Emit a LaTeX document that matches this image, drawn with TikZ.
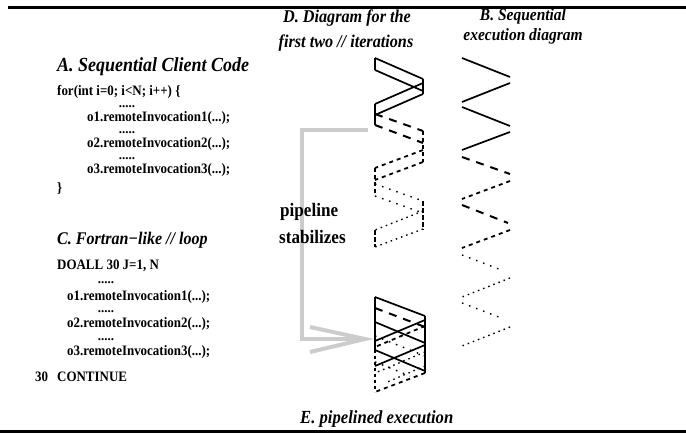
\documentclass[tikz,border=0pt]{standalone}
\usepackage{fontspec}
\setmainfont{Liberation Serif}
% slightly condensed Times-like face for all labels
\newfontfamily\narrowserif[FakeStretch=0.9]{Liberation Serif}
\begin{document}
\begin{tikzpicture}[x=1pt,y=-1pt,
  ttl/.style={inner sep=0pt,font=\narrowserif\fontsize{18.5}{22}\selectfont\bfseries\itshape},
  code/.style={inner sep=0pt,anchor=base west,font=\narrowserif\fontsize{14.4}{17}\selectfont\bfseries},
  gap/.style={inner sep=0pt,anchor=base,text height=1.5pt,text depth=0pt,font=\fontsize{13}{15}\selectfont\bfseries},
  rulebar/.style={line width=2.6pt},
  solidln/.style={line width=1.7pt},
  longdash/.style={line width=2pt,dash pattern=on 8pt off 7pt},
  shortdash/.style={line width=1.8pt,dash pattern=on 4pt off 4pt},
  sparsedot/.style={line width=1.4pt,dash pattern=on 1.5pt off 6pt},
  densedot/.style={line width=1.4pt,dash pattern=on 1.5pt off 4pt},
  vline/.style={line width=1.3pt},
  greyarrow/.style={line width=4pt,draw=black!20}
]
\useasboundingbox (0,0) rectangle (686,435);

% pipeline stabilizes: grey arrow from D down to E, under the labels
\coordinate (dtap) at (368,130);
\coordinate (bend1) at (302,130);
\coordinate (bend2) at (302,339);
\coordinate (etip) at (365,339);
\coordinate (barbup) at (310,327);
\coordinate (barbdn) at (310,352);
\draw[greyarrow] (dtap) -- (bend1) -- (bend2) -- (etip);
\draw[greyarrow] (barbup) -- (etip) -- (barbdn);

% rules above and below
\draw[rulebar] (8,7.5) -- (686,7.5);
\draw[rulebar] (0,431.5) -- (686,431.5);

% headings
\node[ttl,font=\narrowserif\fontsize{18}{21}\selectfont\bfseries\itshape,anchor=base] (dhead1) at (347,23) {D. Diagram for the};
\node[ttl,font=\narrowserif\fontsize{18}{21}\selectfont\bfseries\itshape,anchor=base] (dhead2) at (346,48) {first two // iterations};
\node[ttl,font=\narrowserif\fontsize{17.2}{20}\selectfont\bfseries\itshape,anchor=base] (bhead1) at (523,21) {B. Sequential};
\node[ttl,font=\narrowserif\fontsize{17.2}{20}\selectfont\bfseries\itshape,anchor=base] (bhead2) at (523,41) {execution diagram};
\node[ttl,font=\narrowserif\fontsize{20}{23}\selectfont\bfseries\itshape,anchor=base west] (ahead) at (57,72) {A. Sequential Client Code};
\node[ttl,font=\narrowserif\fontsize{17.8}{21}\selectfont\bfseries\itshape,anchor=base west] (chead) at (57,245) {C. Fortran\textminus like // loop};
\node[ttl,anchor=base west] (ehead) at (300,424) {E. pipelined execution};

% sequential client code
\node[code] (afor) at (57,96) {for(int i=0; i<N; i++) \{};
\node[gap] (ag1) at (127,108) {.....};
\node[code] (ao1) at (87,122) {o1.remoteInvocation1(...);};
\node[gap] (ag2) at (127,134) {.....};
\node[code] (ao2) at (87,148) {o2.remoteInvocation2(...);};
\node[gap] (ag3) at (127,160) {.....};
\node[code] (ao3) at (87,174) {o3.remoteInvocation3(...);};
\node[code] (aend) at (57,193) {\}};

% parallel loop
\node[code] (cdo) at (57,270) {DOALL 30 J=1, N};
\node[gap] (cg1) at (106,284) {.....};
\node[code] (co1) at (67,301) {o1.remoteInvocation1(...);};
\node[gap] (cg2) at (106,313) {.....};
\node[code] (co2) at (67,328) {o2.remoteInvocation2(...);};
\node[gap] (cg3) at (106,341) {.....};
\node[code] (co3) at (67,356) {o3.remoteInvocation3(...);};
\node[code] (ccont) at (35,382) {\makebox[22pt][l]{30}CONTINUE};

\node[code,font=\narrowserif\fontsize{19}{22}\selectfont\bfseries] (pipe1) at (280,217) {pipeline};
\node[code,font=\narrowserif\fontsize{19}{22}\selectfont\bfseries] (pipe2) at (279,244) {stabilizes};

% B: sequential execution
\draw[solidln]   (462,58)  -- (510,77);
\draw[solidln]   (510,83)  -- (462,102);
\draw[solidln]   (462,107) -- (510,126);
\draw[solidln]   (510,132) -- (462,150);
\draw[longdash]  (462,157) -- (510,174);
\draw[shortdash] (510,181) -- (462,199);
\draw[longdash]  (462,205) -- (508,223);
\draw[shortdash] (510,230) -- (462,248);
\draw[sparsedot] (462,255) -- (504,271);
\draw[densedot]  (510,278) -- (462,297);
\draw[sparsedot] (462,303) -- (504,319);
\draw[densedot]  (510,327) -- (462,346);

% D: first two parallel iterations
\draw[vline] (375,58) -- (375,70);
\draw[vline] (423,79) -- (423,94);
\draw[vline] (375,104) -- (375,125);
\draw[vline,dash pattern=on 4pt off 3pt] (423,131) -- (423,162);
\draw[vline,dash pattern=on 4pt off 3pt] (375,168) -- (375,196);
\draw[vline,dash pattern=on 5pt off 2pt] (423,201) -- (423,230);
\draw[vline,dash pattern=on 5pt off 2pt] (375,230) -- (375,247);
\draw[solidln]   (375,58)  -- (423,79);
\draw[solidln]   (375,70)  -- (423,91);
\draw[solidln]   (423,83)  -- (375,104);
\draw[solidln]   (423,94)  -- (375,115);
\draw[longdash]  (375,114) -- (423,131);
\draw[longdash]  (375,125) -- (423,143);
\draw[shortdash] (423,150) -- (375,168);
\draw[shortdash] (423,162) -- (375,180);
\draw[sparsedot] (375,184) -- (423,201);
\draw[sparsedot] (375,196) -- (423,213);
\draw[densedot]  (423,211) -- (375,230);
\draw[densedot]  (423,229) -- (375,247);

% E: pipelined steady state
\draw[vline] (375,297) -- (375,350);
\draw[vline,dash pattern=on 3pt off 3pt] (375,350) -- (375,392);
\draw[vline] (425,316) -- (425,373);
\draw[solidln]   (375,297) -- (425,316);
\draw[longdash]  (375,308) -- (425,327);
\draw[solidln]   (375,322) -- (425,343);
\draw[solidln]   (425,320) -- (375,341);
\draw[shortdash] (425,326) -- (375,347);
\draw[solidln]   (375,350) -- (425,371);
\draw[solidln]   (425,345) -- (375,366);
\draw[sparsedot] (375,336) -- (425,356);
\draw[densedot]  (425,352) -- (375,373);
\draw[sparsedot] (375,362) -- (410,376);
\draw[densedot]  (425,366) -- (385,383);
\draw[shortdash] (425,373) -- (375,392);
\end{tikzpicture}
\end{document}
